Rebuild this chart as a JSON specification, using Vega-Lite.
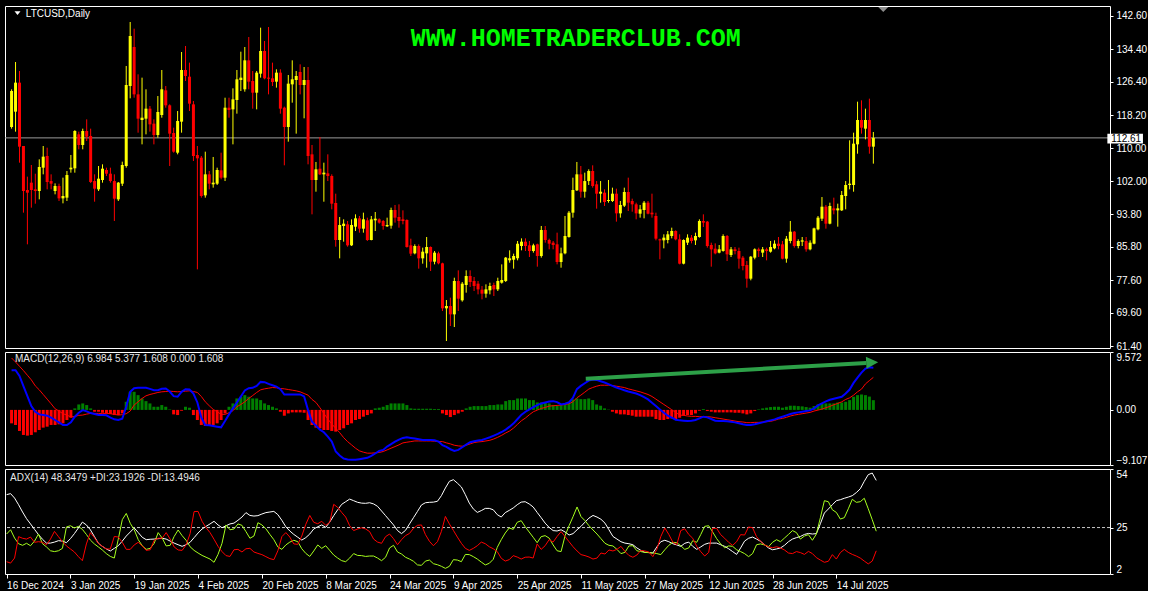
{
"$schema": "https://vega.github.io/schema/vega-lite/v6.json",
"background": "#000000",
"padding": {"left": 4, "top": 5, "right": 0, "bottom": 0},
"spacing": 4,
"bounds": "flush",
"config": {
  "view": {"stroke": "#FFFFFF", "strokeWidth": 1, "fill": "#000000"},
  "axis": {"domain": false, "grid": false, "labelColor": "#FFFFFF", "tickColor": "#FFFFFF", "labelFont": "Liberation Sans", "labelFontSize": 10, "tickSize": 3, "labelPadding": 3, "labelOverlap": false, "labelBound": false}
},
"data": {"values": [
{"i":0,"open":115.29,"high":124.56,"low":114.88,"close":124.14,"macd":6.55,"signal":8.58,"hist":-2.22,"adx":41.3,"pdi":21.8,"mdi":8.1},
{"i":1,"open":119.06,"high":131.28,"low":114.14,"close":126.20,"macd":6.55,"signal":7.92,"hist":-2.49,"adx":41.8,"pdi":23.9,"mdi":7.4},
{"i":2,"open":126.20,"high":129.07,"low":106.51,"close":110.45,"macd":5.62,"signal":7.21,"hist":-3.48,"adx":39.6,"pdi":19.8,"mdi":9.9},
{"i":3,"open":110.61,"high":110.61,"low":94.21,"close":99.54,"macd":3.92,"signal":6.50,"hist":-4.14,"adx":36.3,"pdi":17.0,"mdi":20.5},
{"i":4,"open":99.78,"high":103.07,"low":86.42,"close":99.13,"macd":2.28,"signal":5.73,"hist":-4.25,"adx":32.7,"pdi":16.2,"mdi":19.7},
{"i":5,"open":101.59,"high":105.94,"low":95.44,"close":99.78,"macd":0.63,"signal":4.96,"hist":-4.14,"adx":29.4,"pdi":17.2,"mdi":19.3},
{"i":6,"open":99.95,"high":103.80,"low":96.42,"close":99.54,"macd":-0.30,"signal":3.97,"hist":-3.70,"adx":26.8,"pdi":16.0,"mdi":20.3},
{"i":7,"open":99.54,"high":107.33,"low":97.49,"close":105.45,"macd":-0.74,"signal":3.32,"hist":-3.32,"adx":24.1,"pdi":18.3,"mdi":17.7},
{"i":8,"open":105.28,"high":110.61,"low":103.64,"close":107.99,"macd":-0.85,"signal":2.55,"hist":-2.93,"adx":21.5,"pdi":21.8,"mdi":18.0},
{"i":9,"open":108.15,"high":110.20,"low":99.95,"close":101.75,"macd":-0.96,"signal":1.78,"hist":-2.77,"adx":19.2,"pdi":17.0,"mdi":17.7},
{"i":10,"open":101.99,"high":103.64,"low":99.95,"close":101.34,"macd":-1.29,"signal":1.01,"hist":-2.49,"adx":17.3,"pdi":15.4,"mdi":16.5},
{"i":11,"open":99.54,"high":101.42,"low":98.72,"close":100.77,"macd":-1.67,"signal":0.19,"hist":-2.49,"adx":17.3,"pdi":13.5,"mdi":19.3},
{"i":12,"open":100.77,"high":101.34,"low":97.08,"close":97.73,"macd":-2.06,"signal":-0.19,"hist":-2.38,"adx":17.8,"pdi":13.1,"mdi":23.1},
{"i":13,"open":97.73,"high":102.82,"low":96.50,"close":98.31,"macd":-2.49,"signal":-0.63,"hist":-2.22,"adx":18.5,"pdi":13.5,"mdi":20.5},
{"i":14,"open":97.90,"high":104.46,"low":97.08,"close":103.47,"macd":-2.49,"signal":-0.85,"hist":-1.67,"adx":18.3,"pdi":14.7,"mdi":18.0},
{"i":15,"open":104.87,"high":108.40,"low":104.05,"close":105.28,"macd":-2.06,"signal":-1.18,"hist":-1.29,"adx":17.5,"pdi":25.3,"mdi":15.9},
{"i":16,"open":105.12,"high":114.50,"low":104.05,"close":114.30,"macd":-1.12,"signal":-1.07,"hist":0.25,"adx":19.5,"pdi":25.9,"mdi":14.4},
{"i":17,"open":113.48,"high":114.14,"low":109.79,"close":110.86,"macd":-0.47,"signal":-0.90,"hist":0.90,"adx":22.0,"pdi":24.8,"mdi":12.9},
{"i":18,"open":110.86,"high":114.88,"low":109.79,"close":114.30,"macd":-0.03,"signal":-0.85,"hist":1.07,"adx":24.8,"pdi":25.6,"mdi":10.6},
{"i":19,"open":114.30,"high":117.17,"low":111.84,"close":112.91,"macd":-0.25,"signal":-0.69,"hist":0.80,"adx":27.7,"pdi":24.1,"mdi":8.6},
{"i":20,"open":113.07,"high":114.88,"low":101.50,"close":101.75,"macd":-0.52,"signal":-0.58,"hist":0.25,"adx":26.3,"pdi":21.6,"mdi":16.9},
{"i":21,"open":101.99,"high":103.64,"low":96.91,"close":100.11,"macd":-0.69,"signal":-0.58,"hist":-0.30,"adx":23.9,"pdi":18.8,"mdi":22.5},
{"i":22,"open":99.95,"high":105.69,"low":99.54,"close":102.57,"macd":-0.85,"signal":-0.58,"hist":-0.30,"adx":20.6,"pdi":16.9,"mdi":20.0},
{"i":23,"open":102.25,"high":106.10,"low":101.59,"close":105.03,"macd":-0.85,"signal":-0.58,"hist":-0.47,"adx":17.2,"pdi":15.4,"mdi":17.2},
{"i":24,"open":104.71,"high":105.28,"low":103.23,"close":103.80,"macd":-0.90,"signal":-0.58,"hist":-0.58,"adx":15.7,"pdi":13.9,"mdi":15.7},
{"i":25,"open":103.80,"high":105.28,"low":101.59,"close":101.99,"macd":-1.29,"signal":-0.63,"hist":-0.69,"adx":14.4,"pdi":12.1,"mdi":14.4},
{"i":26,"open":101.99,"high":103.64,"low":92.16,"close":97.65,"macd":-1.56,"signal":-0.74,"hist":-0.85,"adx":13.4,"pdi":10.7,"mdi":14.4},
{"i":27,"open":97.49,"high":101.75,"low":97.08,"close":101.59,"macd":-1.67,"signal":-0.85,"hist":-0.85,"adx":14.7,"pdi":9.9,"mdi":20.6},
{"i":28,"open":101.34,"high":106.76,"low":100.77,"close":105.94,"macd":-1.45,"signal":-0.79,"hist":-0.58,"adx":16.0,"pdi":19.3,"mdi":20.3},
{"i":29,"open":105.69,"high":130.30,"low":105.28,"close":125.62,"macd":0.52,"signal":-0.63,"hist":1.34,"adx":18.3,"pdi":28.9,"mdi":17.7},
{"i":30,"open":125.37,"high":141.12,"low":122.34,"close":137.68,"macd":2.99,"signal":-0.19,"hist":2.99,"adx":20.8,"pdi":32.0,"mdi":14.2},
{"i":31,"open":134.97,"high":139.48,"low":122.50,"close":123.32,"macd":3.59,"signal":0.80,"hist":2.99,"adx":22.8,"pdi":27.1,"mdi":14.2},
{"i":32,"open":123.32,"high":128.25,"low":113.89,"close":117.34,"macd":3.65,"signal":1.34,"hist":2.44,"adx":24.8,"pdi":23.9,"mdi":16.4},
{"i":33,"open":117.01,"high":127.43,"low":111.02,"close":117.58,"macd":3.65,"signal":1.89,"hist":1.89,"adx":22.5,"pdi":19.0,"mdi":17.7},
{"i":34,"open":117.34,"high":124.56,"low":113.48,"close":119.80,"macd":3.65,"signal":2.33,"hist":1.45,"adx":20.2,"pdi":16.0,"mdi":15.9},
{"i":35,"open":119.80,"high":120.45,"low":114.14,"close":115.94,"macd":3.48,"signal":2.55,"hist":1.07,"adx":19.0,"pdi":14.2,"mdi":13.7},
{"i":36,"open":116.11,"high":117.17,"low":111.02,"close":113.32,"macd":3.26,"signal":2.71,"hist":0.52,"adx":19.2,"pdi":14.7,"mdi":14.0},
{"i":37,"open":113.32,"high":122.91,"low":112.66,"close":118.98,"macd":3.26,"signal":2.88,"hist":0.52,"adx":19.3,"pdi":17.2,"mdi":18.7},
{"i":38,"open":118.24,"high":129.31,"low":117.58,"close":124.56,"macd":3.48,"signal":2.99,"hist":0.80,"adx":19.5,"pdi":22.5,"mdi":19.7},
{"i":39,"open":124.31,"high":125.37,"low":120.04,"close":120.62,"macd":3.54,"signal":3.04,"hist":0.52,"adx":19.7,"pdi":19.8,"mdi":19.7},
{"i":40,"open":120.62,"high":120.86,"low":105.69,"close":113.65,"macd":3.04,"signal":3.10,"hist":0.08,"adx":19.3,"pdi":15.9,"mdi":22.5},
{"i":41,"open":113.81,"high":115.12,"low":108.97,"close":109.22,"macd":2.28,"signal":3.04,"hist":-0.74,"adx":18.3,"pdi":16.2,"mdi":19.3},
{"i":42,"open":108.97,"high":119.22,"low":108.56,"close":116.76,"macd":2.17,"signal":2.99,"hist":-0.85,"adx":17.3,"pdi":20.6,"mdi":15.4},
{"i":43,"open":116.60,"high":133.74,"low":113.89,"close":129.31,"macd":2.99,"signal":3.04,"hist":-0.14,"adx":16.5,"pdi":23.8,"mdi":13.9},
{"i":44,"open":129.31,"high":135.22,"low":126.61,"close":127.84,"macd":3.43,"signal":3.10,"hist":0.52,"adx":15.7,"pdi":21.0,"mdi":13.7},
{"i":45,"open":127.67,"high":131.12,"low":119.22,"close":121.03,"macd":3.37,"signal":3.15,"hist":0.36,"adx":16.5,"pdi":18.7,"mdi":16.4},
{"i":46,"open":120.86,"high":121.68,"low":106.92,"close":108.15,"macd":2.71,"signal":3.04,"hist":-0.85,"adx":17.7,"pdi":15.5,"mdi":22.0},
{"i":47,"open":108.40,"high":110.61,"low":80.26,"close":107.58,"macd":1.23,"signal":2.88,"hist":-1.67,"adx":20.0,"pdi":13.7,"mdi":32.9},
{"i":48,"open":107.74,"high":108.15,"low":97.90,"close":98.31,"macd":-1.29,"signal":2.22,"hist":-2.49,"adx":22.3,"pdi":12.4,"mdi":33.0},
{"i":49,"open":98.47,"high":109.22,"low":97.90,"close":103.64,"macd":-2.49,"signal":1.34,"hist":-2.66,"adx":24.3,"pdi":11.2,"mdi":28.1},
{"i":50,"open":103.64,"high":104.46,"low":99.95,"close":101.34,"macd":-2.55,"signal":0.69,"hist":-2.66,"adx":25.6,"pdi":10.3,"mdi":24.9},
{"i":51,"open":101.18,"high":107.91,"low":100.36,"close":101.59,"macd":-2.66,"signal":0.08,"hist":-2.49,"adx":26.8,"pdi":9.4,"mdi":22.5},
{"i":52,"open":101.34,"high":105.28,"low":101.02,"close":104.71,"macd":-2.77,"signal":-0.30,"hist":-2.22,"adx":28.1,"pdi":7.8,"mdi":19.2},
{"i":53,"open":104.62,"high":108.97,"low":102.41,"close":102.82,"macd":-2.88,"signal":-0.74,"hist":-1.67,"adx":26.3,"pdi":11.7,"mdi":15.7},
{"i":54,"open":102.82,"high":122.50,"low":101.99,"close":120.04,"macd":-1.84,"signal":-0.74,"hist":-0.58,"adx":24.9,"pdi":17.2,"mdi":13.1},
{"i":55,"open":120.04,"high":122.50,"low":117.58,"close":119.47,"macd":-0.74,"signal":-0.47,"hist":0.52,"adx":25.9,"pdi":26.3,"mdi":11.1},
{"i":56,"open":119.63,"high":124.80,"low":111.02,"close":122.09,"macd":0.25,"signal":-0.14,"hist":1.07,"adx":26.8,"pdi":23.9,"mdi":10.7},
{"i":57,"open":121.93,"high":129.31,"low":118.57,"close":127.02,"macd":1.23,"signal":0.52,"hist":1.89,"adx":27.2,"pdi":24.3,"mdi":14.0},
{"i":58,"open":126.85,"high":133.82,"low":124.14,"close":127.43,"macd":2.22,"signal":0.90,"hist":2.17,"adx":28.6,"pdi":26.8,"mdi":14.2},
{"i":59,"open":124.56,"high":134.97,"low":123.98,"close":131.69,"macd":3.21,"signal":1.34,"hist":2.44,"adx":30.2,"pdi":26.1,"mdi":12.9},
{"i":60,"open":131.69,"high":137.43,"low":124.56,"close":126.44,"macd":3.59,"signal":1.89,"hist":2.17,"adx":32.4,"pdi":23.0,"mdi":14.5},
{"i":61,"open":126.61,"high":129.07,"low":119.80,"close":123.73,"macd":3.65,"signal":2.38,"hist":1.89,"adx":31.0,"pdi":19.7,"mdi":14.7},
{"i":62,"open":123.73,"high":129.07,"low":119.63,"close":128.66,"macd":3.97,"signal":2.88,"hist":1.89,"adx":30.7,"pdi":20.8,"mdi":12.9},
{"i":63,"open":128.41,"high":139.73,"low":127.43,"close":133.99,"macd":4.63,"signal":3.32,"hist":1.62,"adx":30.9,"pdi":27.4,"mdi":12.2},
{"i":64,"open":133.99,"high":136.45,"low":127.02,"close":127.26,"macd":4.58,"signal":3.48,"hist":1.07,"adx":31.7,"pdi":26.3,"mdi":11.6},
{"i":65,"open":127.43,"high":139.89,"low":123.32,"close":127.18,"macd":4.30,"signal":3.59,"hist":0.80,"adx":32.4,"pdi":24.4,"mdi":10.6},
{"i":66,"open":127.26,"high":131.12,"low":125.37,"close":126.36,"macd":4.08,"signal":3.70,"hist":0.52,"adx":32.7,"pdi":21.6,"mdi":9.6},
{"i":67,"open":126.44,"high":129.48,"low":124.97,"close":128.66,"macd":3.86,"signal":3.65,"hist":0.25,"adx":33.0,"pdi":19.0,"mdi":9.1},
{"i":68,"open":128.66,"high":129.48,"low":118.57,"close":119.80,"macd":3.43,"signal":3.54,"hist":-0.30,"adx":31.4,"pdi":15.4,"mdi":13.5},
{"i":69,"open":120.04,"high":120.30,"low":105.86,"close":115.29,"macd":2.55,"signal":3.48,"hist":-0.96,"adx":28.6,"pdi":14.2,"mdi":20.5},
{"i":70,"open":115.29,"high":128.08,"low":111.68,"close":125.95,"macd":2.55,"signal":3.37,"hist":-0.58,"adx":25.4,"pdi":16.4,"mdi":22.5},
{"i":71,"open":125.78,"high":131.69,"low":121.27,"close":127.02,"macd":2.55,"signal":3.26,"hist":-0.41,"adx":23.3,"pdi":17.8,"mdi":20.3},
{"i":72,"open":126.85,"high":129.07,"low":113.65,"close":127.84,"macd":2.55,"signal":3.15,"hist":-0.41,"adx":21.6,"pdi":18.7,"mdi":16.9},
{"i":73,"open":128.82,"high":130.71,"low":123.32,"close":125.62,"macd":2.55,"signal":2.99,"hist":-0.41,"adx":20.2,"pdi":18.0,"mdi":16.7},
{"i":74,"open":125.62,"high":130.05,"low":117.42,"close":126.85,"macd":2.22,"signal":2.71,"hist":-0.47,"adx":18.8,"pdi":14.5,"mdi":20.8},
{"i":75,"open":126.85,"high":130.05,"low":106.10,"close":108.15,"macd":-0.03,"signal":2.44,"hist":-1.67,"adx":20.0,"pdi":12.2,"mdi":26.6},
{"i":76,"open":108.56,"high":110.86,"low":93.80,"close":102.25,"macd":-1.95,"signal":1.73,"hist":-2.49,"adx":21.8,"pdi":10.7,"mdi":31.0},
{"i":77,"open":102.25,"high":106.68,"low":99.37,"close":104.87,"macd":-2.60,"signal":1.23,"hist":-2.93,"adx":24.3,"pdi":13.4,"mdi":27.6},
{"i":78,"open":105.03,"high":112.83,"low":103.47,"close":103.64,"macd":-3.26,"signal":0.36,"hist":-3.04,"adx":25.4,"pdi":16.4,"mdi":26.9},
{"i":79,"open":103.64,"high":106.51,"low":96.91,"close":104.05,"macd":-3.70,"signal":-0.58,"hist":-3.32,"adx":26.3,"pdi":14.7,"mdi":28.1},
{"i":80,"open":103.88,"high":108.56,"low":101.99,"close":103.23,"macd":-4.41,"signal":-1.51,"hist":-3.32,"adx":25.1,"pdi":16.0,"mdi":26.1},
{"i":81,"open":103.23,"high":103.64,"low":95.03,"close":96.42,"macd":-5.24,"signal":-2.33,"hist":-3.48,"adx":27.7,"pdi":13.7,"mdi":27.6},
{"i":82,"open":96.59,"high":98.88,"low":85.84,"close":87.48,"macd":-6.88,"signal":-3.04,"hist":-3.59,"adx":30.9,"pdi":11.4,"mdi":36.5},
{"i":83,"open":87.48,"high":93.14,"low":82.97,"close":91.17,"macd":-7.54,"signal":-3.76,"hist":-3.32,"adx":33.8,"pdi":9.9,"mdi":35.0},
{"i":84,"open":90.93,"high":92.57,"low":87.07,"close":91.50,"macd":-8.03,"signal":-4.58,"hist":-3.04,"adx":36.5,"pdi":8.6,"mdi":32.5},
{"i":85,"open":91.34,"high":92.16,"low":85.84,"close":86.17,"macd":-8.20,"signal":-5.24,"hist":-2.49,"adx":37.8,"pdi":8.1,"mdi":30.2},
{"i":86,"open":86.17,"high":92.57,"low":86.01,"close":91.17,"macd":-8.25,"signal":-5.78,"hist":-2.22,"adx":39.1,"pdi":9.9,"mdi":25.9},
{"i":87,"open":90.76,"high":93.80,"low":89.70,"close":92.81,"macd":-8.25,"signal":-6.33,"hist":-1.67,"adx":38.3,"pdi":12.1,"mdi":23.5},
{"i":88,"open":92.81,"high":93.39,"low":89.29,"close":90.27,"macd":-8.14,"signal":-6.77,"hist":-1.51,"adx":37.5,"pdi":11.2,"mdi":24.3},
{"i":89,"open":90.27,"high":94.21,"low":89.29,"close":92.57,"macd":-8.03,"signal":-6.99,"hist":-1.12,"adx":37.1,"pdi":11.1,"mdi":24.9},
{"i":90,"open":92.32,"high":92.98,"low":87.24,"close":87.48,"macd":-7.92,"signal":-7.15,"hist":-0.85,"adx":37.0,"pdi":10.7,"mdi":24.3},
{"i":91,"open":87.48,"high":93.39,"low":87.40,"close":92.57,"macd":-7.59,"signal":-7.15,"hist":-0.58,"adx":37.3,"pdi":10.9,"mdi":23.0},
{"i":92,"open":92.32,"high":94.37,"low":89.70,"close":92.73,"macd":-7.21,"signal":-7.10,"hist":0.25,"adx":36.7,"pdi":10.9,"mdi":19.3},
{"i":93,"open":92.57,"high":92.81,"low":91.50,"close":91.75,"macd":-6.77,"signal":-7.04,"hist":0.36,"adx":35.5,"pdi":9.9,"mdi":17.8},
{"i":94,"open":92.16,"high":92.40,"low":90.02,"close":90.93,"macd":-6.61,"signal":-6.88,"hist":0.52,"adx":33.2,"pdi":8.6,"mdi":17.2},
{"i":95,"open":90.85,"high":92.98,"low":90.68,"close":91.17,"macd":-6.06,"signal":-6.61,"hist":0.80,"adx":30.9,"pdi":10.3,"mdi":20.5},
{"i":96,"open":91.01,"high":95.44,"low":90.27,"close":94.86,"macd":-5.67,"signal":-6.33,"hist":1.07,"adx":28.6,"pdi":14.9,"mdi":21.8},
{"i":97,"open":94.86,"high":96.10,"low":91.75,"close":92.98,"macd":-5.24,"signal":-6.06,"hist":1.07,"adx":26.3,"pdi":16.2,"mdi":19.5},
{"i":98,"open":93.14,"high":96.26,"low":90.52,"close":92.16,"macd":-4.91,"signal":-5.78,"hist":1.07,"adx":23.5,"pdi":12.9,"mdi":16.5},
{"i":99,"open":92.57,"high":94.78,"low":91.34,"close":92.16,"macd":-4.63,"signal":-5.45,"hist":1.07,"adx":22.0,"pdi":11.9,"mdi":19.0},
{"i":100,"open":92.40,"high":92.57,"low":85.60,"close":85.76,"macd":-4.52,"signal":-5.34,"hist":0.80,"adx":23.6,"pdi":10.3,"mdi":21.0},
{"i":101,"open":86.17,"high":87.81,"low":83.55,"close":84.12,"macd":-4.63,"signal":-5.24,"hist":0.25,"adx":26.8,"pdi":9.4,"mdi":22.1},
{"i":102,"open":84.20,"high":86.42,"low":83.96,"close":86.01,"macd":-4.74,"signal":-5.13,"hist":0.19,"adx":29.9,"pdi":8.3,"mdi":24.6},
{"i":103,"open":86.01,"high":86.42,"low":80.43,"close":82.97,"macd":-4.85,"signal":-5.13,"hist":0.19,"adx":33.0,"pdi":6.5,"mdi":26.1},
{"i":104,"open":82.97,"high":85.60,"low":81.66,"close":84.61,"macd":-4.96,"signal":-5.13,"hist":0.19,"adx":36.2,"pdi":6.3,"mdi":26.3},
{"i":105,"open":84.20,"high":88.22,"low":80.67,"close":85.76,"macd":-4.96,"signal":-5.13,"hist":0.19,"adx":37.3,"pdi":8.4,"mdi":21.5},
{"i":106,"open":85.76,"high":85.90,"low":79.85,"close":82.15,"macd":-4.96,"signal":-5.13,"hist":0.19,"adx":37.5,"pdi":8.9,"mdi":18.2},
{"i":107,"open":82.15,"high":84.78,"low":81.49,"close":84.37,"macd":-5.02,"signal":-5.18,"hist":0.14,"adx":37.6,"pdi":7.1,"mdi":16.0},
{"i":108,"open":84.20,"high":84.61,"low":81.49,"close":81.74,"macd":-5.24,"signal":-5.24,"hist":0.14,"adx":38.0,"pdi":6.6,"mdi":18.0},
{"i":109,"open":81.74,"high":81.90,"low":70.01,"close":70.67,"macd":-5.84,"signal":-5.24,"hist":-0.58,"adx":40.8,"pdi":5.8,"mdi":23.1},
{"i":110,"open":70.67,"high":72.72,"low":62.63,"close":71.24,"macd":-6.11,"signal":-5.45,"hist":-0.85,"adx":44.6,"pdi":4.8,"mdi":30.5},
{"i":111,"open":71.24,"high":73.29,"low":66.32,"close":69.19,"macd":-6.50,"signal":-5.62,"hist":-1.18,"adx":47.9,"pdi":5.8,"mdi":26.8},
{"i":112,"open":69.19,"high":78.21,"low":66.07,"close":77.39,"macd":-6.77,"signal":-5.84,"hist":-0.85,"adx":48.7,"pdi":9.1,"mdi":23.6},
{"i":113,"open":77.39,"high":80.02,"low":70.01,"close":73.05,"macd":-6.61,"signal":-5.95,"hist":-0.58,"adx":47.0,"pdi":8.9,"mdi":20.3},
{"i":114,"open":72.64,"high":77.15,"low":72.31,"close":76.74,"macd":-6.17,"signal":-6.00,"hist":-0.30,"adx":45.1,"pdi":8.1,"mdi":17.2},
{"i":115,"open":76.41,"high":80.02,"low":74.52,"close":78.62,"macd":-5.73,"signal":-5.84,"hist":0.25,"adx":41.3,"pdi":11.7,"mdi":14.7},
{"i":116,"open":78.62,"high":80.02,"low":75.92,"close":77.15,"macd":-5.34,"signal":-5.62,"hist":0.52,"adx":37.1,"pdi":11.6,"mdi":13.7},
{"i":117,"open":77.39,"high":78.38,"low":74.93,"close":76.16,"macd":-5.18,"signal":-5.40,"hist":0.63,"adx":34.2,"pdi":10.6,"mdi":14.7},
{"i":118,"open":76.74,"high":77.39,"low":74.11,"close":75.34,"macd":-5.07,"signal":-5.29,"hist":0.63,"adx":32.5,"pdi":9.4,"mdi":16.0},
{"i":119,"open":75.26,"high":76.16,"low":72.88,"close":74.28,"macd":-4.96,"signal":-5.24,"hist":0.63,"adx":33.4,"pdi":7.9,"mdi":17.8},
{"i":120,"open":74.28,"high":76.57,"low":73.29,"close":75.34,"macd":-4.74,"signal":-5.13,"hist":0.63,"adx":34.5,"pdi":6.5,"mdi":17.0},
{"i":121,"open":75.10,"high":76.98,"low":74.11,"close":76.16,"macd":-4.52,"signal":-5.02,"hist":0.80,"adx":34.5,"pdi":7.3,"mdi":15.5},
{"i":122,"open":76.41,"high":76.98,"low":73.70,"close":75.34,"macd":-4.25,"signal":-4.80,"hist":0.80,"adx":33.8,"pdi":9.3,"mdi":14.5},
{"i":123,"open":75.34,"high":78.21,"low":74.93,"close":77.39,"macd":-3.97,"signal":-4.52,"hist":0.90,"adx":31.4,"pdi":15.2,"mdi":13.1},
{"i":124,"open":76.98,"high":81.49,"low":76.74,"close":77.64,"macd":-3.65,"signal":-4.19,"hist":0.90,"adx":30.2,"pdi":19.0,"mdi":9.8},
{"i":125,"open":77.39,"high":83.30,"low":77.15,"close":83.14,"macd":-3.26,"signal":-3.81,"hist":1.45,"adx":32.4,"pdi":22.3,"mdi":8.4},
{"i":126,"open":82.48,"high":84.94,"low":81.90,"close":82.97,"macd":-2.77,"signal":-3.48,"hist":1.62,"adx":33.5,"pdi":24.8,"mdi":9.1},
{"i":127,"open":82.64,"high":84.12,"low":80.43,"close":83.55,"macd":-2.22,"signal":-2.99,"hist":1.62,"adx":34.7,"pdi":24.1,"mdi":11.1},
{"i":128,"open":82.97,"high":87.24,"low":82.48,"close":86.58,"macd":-1.51,"signal":-2.38,"hist":1.89,"adx":36.3,"pdi":27.6,"mdi":10.4},
{"i":129,"open":86.01,"high":87.89,"low":84.94,"close":87.07,"macd":-0.79,"signal":-1.78,"hist":1.89,"adx":37.6,"pdi":28.4,"mdi":9.4},
{"i":130,"open":87.07,"high":87.89,"low":84.78,"close":86.01,"macd":-0.30,"signal":-1.34,"hist":1.89,"adx":37.8,"pdi":25.4,"mdi":10.3},
{"i":131,"open":86.17,"high":87.24,"low":83.30,"close":84.78,"macd":0.08,"signal":-0.79,"hist":1.62,"adx":36.7,"pdi":22.8,"mdi":10.4},
{"i":132,"open":84.78,"high":86.58,"low":84.37,"close":86.17,"macd":0.47,"signal":-0.30,"hist":1.62,"adx":35.2,"pdi":20.2,"mdi":9.9},
{"i":133,"open":86.42,"high":86.58,"low":80.92,"close":83.55,"macd":0.80,"signal":-0.03,"hist":1.23,"adx":32.5,"pdi":17.5,"mdi":16.9},
{"i":134,"open":83.55,"high":90.93,"low":83.14,"close":89.94,"macd":1.07,"signal":0.25,"hist":1.23,"adx":29.9,"pdi":20.5,"mdi":14.2},
{"i":135,"open":89.94,"high":90.93,"low":86.83,"close":87.48,"macd":1.23,"signal":0.41,"hist":1.23,"adx":27.2,"pdi":21.0,"mdi":16.0},
{"i":136,"open":87.48,"high":87.81,"low":85.19,"close":86.58,"macd":1.40,"signal":0.63,"hist":1.07,"adx":25.1,"pdi":19.8,"mdi":19.0},
{"i":137,"open":86.83,"high":87.24,"low":85.19,"close":86.25,"macd":1.45,"signal":0.69,"hist":0.80,"adx":23.5,"pdi":16.4,"mdi":17.8},
{"i":138,"open":86.42,"high":89.29,"low":81.49,"close":82.07,"macd":1.29,"signal":0.74,"hist":0.69,"adx":23.3,"pdi":13.5,"mdi":20.6},
{"i":139,"open":82.07,"high":85.60,"low":80.67,"close":84.20,"macd":0.90,"signal":0.80,"hist":0.80,"adx":23.9,"pdi":13.1,"mdi":23.0},
{"i":140,"open":84.20,"high":93.39,"low":83.96,"close":88.47,"macd":1.01,"signal":0.90,"hist":1.07,"adx":22.8,"pdi":21.0,"mdi":20.5},
{"i":141,"open":88.22,"high":94.62,"low":88.06,"close":94.21,"macd":1.23,"signal":1.01,"hist":1.34,"adx":21.3,"pdi":25.9,"mdi":18.0},
{"i":142,"open":94.21,"high":102.82,"low":92.98,"close":99.78,"macd":2.00,"signal":1.34,"hist":1.73,"adx":22.0,"pdi":30.4,"mdi":15.5},
{"i":143,"open":99.70,"high":106.68,"low":99.54,"close":103.64,"macd":3.43,"signal":2.00,"hist":1.89,"adx":23.9,"pdi":35.2,"mdi":13.4},
{"i":144,"open":103.64,"high":105.69,"low":97.90,"close":99.37,"macd":3.97,"signal":2.44,"hist":1.78,"adx":25.6,"pdi":30.4,"mdi":11.6},
{"i":145,"open":99.37,"high":104.05,"low":97.90,"close":101.99,"macd":4.41,"signal":2.93,"hist":1.78,"adx":27.7,"pdi":28.4,"mdi":11.1},
{"i":146,"open":101.99,"high":104.87,"low":101.02,"close":104.46,"macd":4.85,"signal":3.43,"hist":1.89,"adx":29.7,"pdi":25.9,"mdi":10.4},
{"i":147,"open":104.46,"high":105.86,"low":100.36,"close":100.77,"macd":5.02,"signal":3.70,"hist":1.62,"adx":31.0,"pdi":23.8,"mdi":9.4},
{"i":148,"open":101.18,"high":101.99,"low":95.19,"close":98.88,"macd":4.96,"signal":3.92,"hist":0.90,"adx":30.2,"pdi":21.8,"mdi":9.9},
{"i":149,"open":98.88,"high":101.99,"low":96.67,"close":99.37,"macd":4.74,"signal":4.08,"hist":0.69,"adx":29.1,"pdi":19.5,"mdi":12.4},
{"i":150,"open":99.13,"high":99.95,"low":95.85,"close":96.83,"macd":4.52,"signal":4.08,"hist":0.25,"adx":27.2,"pdi":17.2,"mdi":11.9},
{"i":151,"open":97.08,"high":102.25,"low":96.67,"close":97.32,"macd":4.25,"signal":4.08,"hist":0.05,"adx":23.9,"pdi":16.2,"mdi":13.9},
{"i":152,"open":97.08,"high":100.36,"low":96.83,"close":98.88,"macd":3.97,"signal":4.03,"hist":-0.30,"adx":20.6,"pdi":15.9,"mdi":13.4},
{"i":153,"open":98.88,"high":100.11,"low":92.00,"close":94.04,"macd":3.70,"signal":3.92,"hist":-0.58,"adx":19.3,"pdi":14.2,"mdi":14.2},
{"i":154,"open":94.04,"high":97.08,"low":92.98,"close":96.10,"macd":3.48,"signal":3.81,"hist":-0.74,"adx":18.0,"pdi":12.1,"mdi":15.7},
{"i":155,"open":95.93,"high":100.36,"low":95.60,"close":99.29,"macd":3.26,"signal":3.70,"hist":-0.74,"adx":17.3,"pdi":12.7,"mdi":13.2},
{"i":156,"open":99.29,"high":102.82,"low":94.62,"close":96.67,"macd":3.04,"signal":3.48,"hist":-0.85,"adx":17.0,"pdi":15.9,"mdi":11.2},
{"i":157,"open":97.08,"high":97.65,"low":94.45,"close":96.26,"macd":2.88,"signal":3.32,"hist":-0.96,"adx":16.5,"pdi":16.0,"mdi":10.3},
{"i":158,"open":96.26,"high":96.67,"low":92.57,"close":94.04,"macd":2.71,"signal":3.15,"hist":-1.12,"adx":14.9,"pdi":13.5,"mdi":11.4},
{"i":159,"open":93.96,"high":96.10,"low":92.98,"close":95.03,"macd":2.44,"signal":2.99,"hist":-1.12,"adx":13.7,"pdi":13.1,"mdi":13.7},
{"i":160,"open":94.86,"high":97.08,"low":92.81,"close":96.67,"macd":2.11,"signal":2.77,"hist":-1.12,"adx":12.7,"pdi":12.7,"mdi":13.4},
{"i":161,"open":96.67,"high":97.08,"low":93.80,"close":93.96,"macd":1.73,"signal":2.55,"hist":-1.12,"adx":12.6,"pdi":12.6,"mdi":12.9},
{"i":162,"open":94.21,"high":98.88,"low":92.98,"close":93.80,"macd":1.18,"signal":2.22,"hist":-1.12,"adx":12.4,"pdi":12.4,"mdi":10.6},
{"i":163,"open":93.39,"high":94.21,"low":87.40,"close":87.81,"macd":0.63,"signal":1.78,"hist":-1.51,"adx":15.4,"pdi":12.1,"mdi":14.2},
{"i":164,"open":87.65,"high":87.81,"low":82.73,"close":87.40,"macd":0.08,"signal":1.34,"hist":-1.67,"adx":18.0,"pdi":11.6,"mdi":20.6},
{"i":165,"open":87.40,"high":88.88,"low":85.43,"close":88.06,"macd":-0.47,"signal":0.90,"hist":-1.67,"adx":18.7,"pdi":14.0,"mdi":24.8},
{"i":166,"open":87.48,"high":89.70,"low":86.66,"close":88.88,"macd":-0.96,"signal":0.47,"hist":-1.51,"adx":18.0,"pdi":16.2,"mdi":21.6},
{"i":167,"open":88.47,"high":90.52,"low":87.89,"close":89.70,"macd":-1.29,"signal":0.03,"hist":-1.40,"adx":17.0,"pdi":17.7,"mdi":17.8},
{"i":168,"open":89.70,"high":89.86,"low":87.40,"close":87.65,"macd":-1.62,"signal":-0.41,"hist":-1.51,"adx":16.4,"pdi":17.5,"mdi":16.5},
{"i":169,"open":87.65,"high":88.88,"low":81.49,"close":81.66,"macd":-1.73,"signal":-0.85,"hist":-1.29,"adx":15.7,"pdi":16.0,"mdi":23.5},
{"i":170,"open":81.66,"high":87.65,"low":81.49,"close":87.48,"macd":-1.78,"signal":-0.90,"hist":-0.96,"adx":17.2,"pdi":14.2,"mdi":24.4},
{"i":171,"open":86.83,"high":88.88,"low":86.25,"close":88.06,"macd":-1.84,"signal":-1.01,"hist":-0.85,"adx":17.8,"pdi":14.9,"mdi":21.6},
{"i":172,"open":88.06,"high":88.71,"low":86.66,"close":87.24,"macd":-1.78,"signal":-1.07,"hist":-0.85,"adx":15.7,"pdi":18.5,"mdi":19.7},
{"i":173,"open":87.40,"high":89.29,"low":86.25,"close":88.47,"macd":-1.67,"signal":-1.07,"hist":-0.58,"adx":14.2,"pdi":17.7,"mdi":15.7},
{"i":174,"open":88.22,"high":92.57,"low":88.06,"close":92.16,"macd":-1.40,"signal":-1.12,"hist":-0.14,"adx":15.4,"pdi":21.5,"mdi":13.1},
{"i":175,"open":92.16,"high":93.80,"low":90.68,"close":91.75,"macd":-1.12,"signal":-1.12,"hist":0.14,"adx":16.7,"pdi":25.6,"mdi":10.9},
{"i":176,"open":92.00,"high":92.16,"low":85.60,"close":86.01,"macd":-1.23,"signal":-1.12,"hist":-0.19,"adx":17.3,"pdi":25.9,"mdi":12.7},
{"i":177,"open":86.25,"high":86.83,"low":80.92,"close":85.19,"macd":-1.51,"signal":-1.18,"hist":-0.30,"adx":17.3,"pdi":22.8,"mdi":24.6},
{"i":178,"open":85.35,"high":86.66,"low":83.96,"close":84.20,"macd":-1.78,"signal":-1.29,"hist":-0.41,"adx":17.3,"pdi":19.5,"mdi":24.6},
{"i":179,"open":84.37,"high":86.25,"low":84.20,"close":85.19,"macd":-1.84,"signal":-1.40,"hist":-0.41,"adx":16.5,"pdi":16.9,"mdi":21.5},
{"i":180,"open":84.78,"high":88.88,"low":84.61,"close":88.47,"macd":-1.84,"signal":-1.51,"hist":-0.41,"adx":15.7,"pdi":15.0,"mdi":19.7},
{"i":181,"open":88.47,"high":88.71,"low":82.31,"close":83.96,"macd":-1.89,"signal":-1.62,"hist":-0.41,"adx":14.5,"pdi":15.9,"mdi":17.7},
{"i":182,"open":83.79,"high":85.76,"low":83.30,"close":85.19,"macd":-1.95,"signal":-1.73,"hist":-0.41,"adx":13.1,"pdi":15.7,"mdi":16.2},
{"i":183,"open":85.19,"high":85.76,"low":83.96,"close":84.78,"macd":-2.06,"signal":-1.84,"hist":-0.47,"adx":11.7,"pdi":14.0,"mdi":18.0},
{"i":184,"open":84.78,"high":85.60,"low":80.43,"close":82.89,"macd":-2.22,"signal":-1.95,"hist":-0.47,"adx":14.9,"pdi":13.1,"mdi":21.5},
{"i":185,"open":83.14,"high":83.55,"low":80.02,"close":81.08,"macd":-2.38,"signal":-2.00,"hist":-0.58,"adx":18.3,"pdi":12.1,"mdi":21.3},
{"i":186,"open":81.33,"high":82.31,"low":75.75,"close":77.97,"macd":-2.49,"signal":-2.11,"hist":-0.74,"adx":19.7,"pdi":10.6,"mdi":25.3},
{"i":187,"open":77.97,"high":83.55,"low":77.56,"close":83.38,"macd":-2.49,"signal":-2.11,"hist":-0.58,"adx":20.3,"pdi":12.1,"mdi":24.9},
{"i":188,"open":83.14,"high":85.43,"low":82.73,"close":85.19,"macd":-2.38,"signal":-2.06,"hist":-0.19,"adx":19.3,"pdi":16.5,"mdi":20.5},
{"i":189,"open":85.19,"high":85.60,"low":83.30,"close":84.78,"macd":-2.22,"signal":-2.06,"hist":0.08,"adx":18.2,"pdi":16.9,"mdi":18.2},
{"i":190,"open":84.37,"high":85.76,"low":83.30,"close":85.19,"macd":-2.06,"signal":-2.00,"hist":0.25,"adx":16.5,"pdi":16.4,"mdi":16.4},
{"i":191,"open":85.19,"high":85.60,"low":82.48,"close":84.78,"macd":-1.89,"signal":-1.95,"hist":0.36,"adx":14.9,"pdi":15.5,"mdi":15.5},
{"i":192,"open":84.61,"high":87.24,"low":84.37,"close":85.76,"macd":-1.73,"signal":-1.89,"hist":0.47,"adx":14.0,"pdi":17.7,"mdi":15.0},
{"i":193,"open":85.43,"high":87.40,"low":85.19,"close":86.58,"macd":-1.56,"signal":-1.73,"hist":0.52,"adx":14.4,"pdi":19.0,"mdi":15.5},
{"i":194,"open":86.58,"high":88.22,"low":85.19,"close":86.01,"macd":-1.34,"signal":-1.51,"hist":0.52,"adx":14.9,"pdi":18.0,"mdi":14.9},
{"i":195,"open":86.42,"high":87.24,"low":82.73,"close":82.89,"macd":-1.12,"signal":-1.40,"hist":0.36,"adx":16.2,"pdi":19.8,"mdi":13.9},
{"i":196,"open":82.89,"high":88.47,"low":81.90,"close":87.81,"macd":-0.90,"signal":-1.23,"hist":0.52,"adx":18.0,"pdi":21.6,"mdi":12.4},
{"i":197,"open":87.24,"high":92.16,"low":86.66,"close":89.53,"macd":-0.69,"signal":-1.01,"hist":0.69,"adx":19.3,"pdi":23.5,"mdi":12.1},
{"i":198,"open":89.53,"high":89.70,"low":85.60,"close":86.01,"macd":-0.52,"signal":-0.85,"hist":0.69,"adx":20.0,"pdi":22.5,"mdi":13.1},
{"i":199,"open":86.01,"high":87.65,"low":85.43,"close":87.24,"macd":-0.41,"signal":-0.74,"hist":0.63,"adx":20.6,"pdi":19.3,"mdi":12.6},
{"i":200,"open":87.07,"high":88.22,"low":86.01,"close":87.40,"macd":-0.30,"signal":-0.63,"hist":0.58,"adx":21.6,"pdi":20.8,"mdi":11.7},
{"i":201,"open":87.24,"high":88.22,"low":84.61,"close":85.19,"macd":-0.19,"signal":-0.52,"hist":0.47,"adx":22.1,"pdi":21.5,"mdi":13.2},
{"i":202,"open":85.19,"high":87.40,"low":84.94,"close":86.83,"macd":-0.08,"signal":-0.41,"hist":0.36,"adx":21.8,"pdi":18.7,"mdi":12.1},
{"i":203,"open":86.58,"high":90.52,"low":86.42,"close":90.35,"macd":0.25,"signal":-0.19,"hist":0.63,"adx":22.0,"pdi":21.8,"mdi":10.1},
{"i":204,"open":90.11,"high":93.39,"low":89.86,"close":92.98,"macd":0.74,"signal":-0.03,"hist":0.90,"adx":26.9,"pdi":29.9,"mdi":8.9},
{"i":205,"open":92.73,"high":98.06,"low":92.16,"close":95.68,"macd":1.07,"signal":0.14,"hist":1.07,"adx":32.2,"pdi":38.3,"mdi":7.8},
{"i":206,"open":95.68,"high":96.10,"low":90.27,"close":91.50,"macd":1.40,"signal":0.36,"hist":1.07,"adx":34.2,"pdi":37.8,"mdi":8.3},
{"i":207,"open":91.50,"high":96.67,"low":91.34,"close":95.85,"macd":1.67,"signal":0.58,"hist":1.07,"adx":36.3,"pdi":33.8,"mdi":11.6},
{"i":208,"open":95.27,"high":97.90,"low":93.80,"close":94.78,"macd":1.84,"signal":0.85,"hist":1.07,"adx":38.3,"pdi":32.5,"mdi":9.4},
{"i":209,"open":94.78,"high":96.42,"low":90.76,"close":95.27,"macd":2.00,"signal":1.07,"hist":1.23,"adx":38.8,"pdi":29.2,"mdi":12.6},
{"i":210,"open":94.78,"high":99.54,"low":94.62,"close":98.55,"macd":2.17,"signal":1.34,"hist":1.23,"adx":39.5,"pdi":29.9,"mdi":14.2},
{"i":211,"open":98.31,"high":101.99,"low":95.03,"close":101.02,"macd":2.71,"signal":1.73,"hist":1.34,"adx":40.1,"pdi":34.3,"mdi":12.7},
{"i":212,"open":101.02,"high":112.01,"low":99.95,"close":101.34,"macd":3.37,"signal":2.00,"hist":1.62,"adx":40.8,"pdi":39.0,"mdi":11.7},
{"i":213,"open":101.02,"high":113.89,"low":99.37,"close":111.19,"macd":4.47,"signal":2.44,"hist":2.17,"adx":42.3,"pdi":37.5,"mdi":10.9},
{"i":214,"open":111.02,"high":121.52,"low":108.72,"close":117.01,"macd":5.35,"signal":2.99,"hist":2.44,"adx":44.2,"pdi":37.8,"mdi":9.9},
{"i":215,"open":117.01,"high":121.85,"low":113.65,"close":115.12,"macd":6.17,"signal":3.43,"hist":2.55,"adx":47.9,"pdi":39.5,"mdi":8.4},
{"i":216,"open":114.88,"high":119.80,"low":112.25,"close":117.01,"macd":6.82,"signal":4.30,"hist":2.44,"adx":51.2,"pdi":34.3,"mdi":7.0},
{"i":217,"open":117.01,"high":122.26,"low":108.72,"close":110.45,"macd":7.05,"signal":4.85,"hist":2.20,"adx":52.0,"pdi":28.9,"mdi":8.4},
{"i":218,"open":110.45,"high":114.06,"low":106.27,"close":112.61,"macd":6.984,"signal":5.377,"hist":1.608,"adx":48.35,"pdi":23.19,"mdi":13.49}
]},
"vconcat": [
{
 "width": 1105, "height": 342,
 "layer": [
  {"data": {"values": [{}]}, "mark": {"type": "rule", "color": "#9A9A9A", "strokeWidth": 1},
   "encoding": {"y": {"datum": 112.61, "type": "quantitative", "scale": {"domain": [60.91, 145.06], "nice": false, "zero": false},
     "axis": {"orient": "right", "title": null, "values": [61.4, 69.6, 77.6, 85.8, 93.8, 102, 110, 118.2, 126.4, 134.4, 142.6], "format": ".2f"}}}},
  {"mark": {"type": "rule", "strokeWidth": 1},
   "encoding": {
    "x": {"field": "i", "type": "quantitative", "scale": {"domain": [-0.4, 276.6], "nice": false, "zero": false}, "axis": null},
    "y": {"field": "low", "type": "quantitative", "scale": {"domain": [60.91, 145.06], "nice": false, "zero": false},
     "axis": {"orient": "right", "title": null, "values": [61.4, 69.6, 77.6, 85.8, 93.8, 102, 110, 118.2, 126.4, 134.4, 142.6], "format": ".2f"}},
    "y2": {"field": "high"},
    "color": {"condition": {"test": "datum.close >= datum.open", "value": "#FFFF00"}, "value": "#FF0000"}}},
  {"mark": {"type": "bar", "size": 3},
   "encoding": {
    "x": {"field": "i", "type": "quantitative", "scale": {"domain": [-0.4, 276.6], "nice": false, "zero": false}, "axis": null},
    "y": {"field": "open", "type": "quantitative", "scale": {"domain": [60.91, 145.06], "nice": false, "zero": false},
     "axis": {"orient": "right", "title": null, "values": [61.4, 69.6, 77.6, 85.8, 93.8, 102, 110, 118.2, 126.4, 134.4, 142.6], "format": ".2f"}},
    "y2": {"field": "close"},
    "color": {"condition": {"test": "datum.close >= datum.open", "value": "#FFFF00"}, "value": "#FF0000"}}},
  {"data": {"values": [{}]}, "mark": {"type": "point", "shape": "M-1,-0.6L1,-0.6L0,0.6Z", "size": 36, "filled": true, "color": "#FFFFFF", "opacity": 1},
   "encoding": {
    "x": {"datum": 1.5, "type": "quantitative", "scale": {"domain": [-0.4, 276.6], "nice": false, "zero": false}, "axis": null},
    "y": {"datum": 143.3, "type": "quantitative", "scale": {"domain": [60.91, 145.06], "nice": false, "zero": false},
     "axis": {"orient": "right", "title": null, "values": [61.4, 69.6, 77.6, 85.8, 93.8, 102, 110, 118.2, 126.4, 134.4, 142.6], "format": ".2f"}}}},
  {"data": {"values": [{}]}, "mark": {"type": "text", "text": "LTCUSD,Daily", "align": "left", "baseline": "middle", "font": "Liberation Sans", "fontSize": 10, "color": "#FFFFFF"},
   "encoding": {
    "x": {"datum": 3.6, "type": "quantitative", "scale": {"domain": [-0.4, 276.6], "nice": false, "zero": false}, "axis": null},
    "y": {"datum": 143.2, "type": "quantitative", "scale": {"domain": [60.91, 145.06], "nice": false, "zero": false},
     "axis": {"orient": "right", "title": null, "values": [61.4, 69.6, 77.6, 85.8, 93.8, 102, 110, 118.2, 126.4, 134.4, 142.6], "format": ".2f"}}}},
  {"data": {"values": [{}]}, "mark": {"type": "text", "text": "WWW.HOMETRADERCLUB.COM", "align": "center", "baseline": "middle", "font": "Liberation Mono", "fontWeight": "bold", "fontSize": 25, "color": "#00FF00"},
   "encoding": {
    "x": {"datum": 142.7, "type": "quantitative", "scale": {"domain": [-0.4, 276.6], "nice": false, "zero": false}, "axis": null},
    "y": {"datum": 137.2, "type": "quantitative", "scale": {"domain": [60.91, 145.06], "nice": false, "zero": false},
     "axis": {"orient": "right", "title": null, "values": [61.4, 69.6, 77.6, 85.8, 93.8, 102, 110, 118.2, 126.4, 134.4, 142.6], "format": ".2f"}}}},
  {"data": {"values": [{}]}, "mark": {"type": "point", "shape": "M-1,-0.5L1,-0.5L0,0.5Z", "size": 100, "filled": true, "color": "#8C8C8C", "opacity": 1},
   "encoding": {
    "x": {"datum": 220.5, "type": "quantitative", "scale": {"domain": [-0.4, 276.6], "nice": false, "zero": false}, "axis": null},
    "y": {"datum": 144.2, "type": "quantitative", "scale": {"domain": [60.91, 145.06], "nice": false, "zero": false},
     "axis": {"orient": "right", "title": null, "values": [61.4, 69.6, 77.6, 85.8, 93.8, 102, 110, 118.2, 126.4, 134.4, 142.6], "format": ".2f"}}}},
  {"data": {"values": [{}]}, "mark": {"type": "rect", "color": "#FFFFFF"},
   "encoding": {
    "x": {"datum": 277.2, "type": "quantitative", "scale": {"domain": [-0.4, 276.6], "nice": false, "zero": false}, "axis": null},
    "x2": {"datum": 286.2},
    "y": {"datum": 111.2, "type": "quantitative", "scale": {"domain": [60.91, 145.06], "nice": false, "zero": false},
     "axis": {"orient": "right", "title": null, "values": [61.4, 69.6, 77.6, 85.8, 93.8, 102, 110, 118.2, 126.4, 134.4, 142.6], "format": ".2f"}},
    "y2": {"datum": 113.6}}},
  {"data": {"values": [{}]}, "mark": {"type": "text", "text": "112.61", "align": "left", "baseline": "middle", "font": "Liberation Sans", "fontSize": 10, "color": "#000000"},
   "encoding": {
    "x": {"datum": 278.2, "type": "quantitative", "scale": {"domain": [-0.4, 276.6], "nice": false, "zero": false}, "axis": null},
    "y": {"datum": 112.45, "type": "quantitative", "scale": {"domain": [60.91, 145.06], "nice": false, "zero": false},
     "axis": {"orient": "right", "title": null, "values": [61.4, 69.6, 77.6, 85.8, 93.8, 102, 110, 118.2, 126.4, 134.4, 142.6], "format": ".2f"}}}}
 ]
},
{
 "width": 1105, "height": 113,
 "layer": [
  {"mark": {"type": "bar", "size": 3},
   "encoding": {
    "x": {"field": "i", "type": "quantitative", "scale": {"domain": [-0.4, 276.6], "nice": false, "zero": false}, "axis": null},
    "y": {"field": "hist", "type": "quantitative", "scale": {"domain": [-9.107, 9.572], "nice": false, "zero": false},
      "axis": {"orient": "right", "title": null, "values": [-9.107, 0, 9.572], "labelExpr": "datum.value == 0 ? '0.00' : format(datum.value, '.3f')", "labelFlush": true}},
    "y2": {"datum": 0},
    "color": {"condition": {"test": "datum.hist >= 0", "value": "#008000"}, "value": "#FF0000"}}},
  {"mark": {"type": "line", "color": "#FF0000", "strokeWidth": 1},
   "encoding": {
    "x": {"field": "i", "type": "quantitative", "scale": {"domain": [-0.4, 276.6], "nice": false, "zero": false}, "axis": null},
    "y": {"field": "signal", "type": "quantitative", "scale": {"domain": [-9.107, 9.572], "nice": false, "zero": false},
      "axis": {"orient": "right", "title": null, "values": [-9.107, 0, 9.572], "labelExpr": "datum.value == 0 ? '0.00' : format(datum.value, '.3f')", "labelFlush": true}}}},
  {"mark": {"type": "line", "color": "#0000FF", "strokeWidth": 2},
   "encoding": {
    "x": {"field": "i", "type": "quantitative", "scale": {"domain": [-0.4, 276.6], "nice": false, "zero": false}, "axis": null},
    "y": {"field": "macd", "type": "quantitative", "scale": {"domain": [-9.107, 9.572], "nice": false, "zero": false},
      "axis": {"orient": "right", "title": null, "values": [-9.107, 0, 9.572], "labelExpr": "datum.value == 0 ? '0.00' : format(datum.value, '.3f')", "labelFlush": true}}}},
  {"data": {"values": [{}]}, "mark": {"type": "text", "text": "MACD(12,26,9) 6.984 5.377 1.608 0.000 1.608", "align": "left", "baseline": "middle", "font": "Liberation Sans", "fontSize": 10, "color": "#E6E6E6"},
   "encoding": {
    "x": {"datum": 0.85, "type": "quantitative", "scale": {"domain": [-0.4, 276.6], "nice": false, "zero": false}, "axis": null},
    "y": {"datum": 8.41, "type": "quantitative", "scale": {"domain": [-9.107, 9.572], "nice": false, "zero": false},
      "axis": {"orient": "right", "title": null, "values": [-9.107, 0, 9.572], "labelExpr": "datum.value == 0 ? '0.00' : format(datum.value, '.3f')", "labelFlush": true}}}},
  {"data": {"values": [{}]}, "mark": {"type": "rule", "color": "#2DA048", "strokeWidth": 4},
   "encoding": {
    "x": {"datum": 145.25, "type": "quantitative", "scale": {"domain": [-0.4, 276.6], "nice": false, "zero": false}, "axis": null},
    "x2": {"datum": 216.2},
    "y": {"datum": 5.16, "type": "quantitative", "scale": {"domain": [-9.107, 9.572], "nice": false, "zero": false},
      "axis": {"orient": "right", "title": null, "values": [-9.107, 0, 9.572], "labelExpr": "datum.value == 0 ? '0.00' : format(datum.value, '.3f')", "labelFlush": true}},
    "y2": {"datum": 7.75}}},
  {"data": {"values": [{}]}, "mark": {"type": "point", "shape": "M-1,-1L1,0L-1,1Z", "size": 144, "angle": 357, "filled": true, "color": "#2DA048", "opacity": 1},
   "encoding": {
    "x": {"datum": 217.7, "type": "quantitative", "scale": {"domain": [-0.4, 276.6], "nice": false, "zero": false}, "axis": null},
    "y": {"datum": 7.83, "type": "quantitative", "scale": {"domain": [-9.107, 9.572], "nice": false, "zero": false},
      "axis": {"orient": "right", "title": null, "values": [-9.107, 0, 9.572], "labelExpr": "datum.value == 0 ? '0.00' : format(datum.value, '.3f')", "labelFlush": true}}}}
 ]
},
{
 "width": 1105, "height": 105,
 "layer": [
  {"data": {"values": [{}]}, "mark": {"type": "rule", "color": "#C8C8C8", "strokeWidth": 1, "strokeDash": [3, 2]},
   "encoding": {"y": {"datum": 25, "type": "quantitative", "scale": {"domain": [2, 54], "nice": false, "zero": false},
     "axis": {"orient": "right", "title": null, "values": [2, 25, 54], "format": "d", "labelFlush": true}}}},
  {"mark": {"type": "line", "color": "#FFFFFF", "strokeWidth": 1},
   "encoding": {
    "x": {"field": "i", "type": "quantitative", "scale": {"domain": [-0.4, 276.6], "nice": false, "zero": false},
      "axis": {"orient": "bottom", "title": null, "values": [0, 16, 32, 48, 64, 80, 96, 112, 128, 144, 160, 176, 192, 208],
        "labelExpr": "['16 Dec 2024','3 Jan 2025','19 Jan 2025','4 Feb 2025','20 Feb 2025','8 Mar 2025','24 Mar 2025','9 Apr 2025','25 Apr 2025','11 May 2025','27 May 2025','12 Jun 2025','28 Jun 2025','14 Jul 2025'][round(datum.value / 16)]",
        "labelAlign": "left", "labelBaseline": "top", "tickSize": 4, "labelPadding": 2}},
    "y": {"field": "adx", "type": "quantitative", "scale": {"domain": [2, 54], "nice": false, "zero": false},
     "axis": {"orient": "right", "title": null, "values": [2, 25, 54], "format": "d", "labelFlush": true}}}},
  {"mark": {"type": "line", "color": "#A6FF1E", "strokeWidth": 1},
   "encoding": {
    "x": {"field": "i", "type": "quantitative", "scale": {"domain": [-0.4, 276.6], "nice": false, "zero": false},
      "axis": {"orient": "bottom", "title": null, "values": [0, 16, 32, 48, 64, 80, 96, 112, 128, 144, 160, 176, 192, 208],
        "labelExpr": "['16 Dec 2024','3 Jan 2025','19 Jan 2025','4 Feb 2025','20 Feb 2025','8 Mar 2025','24 Mar 2025','9 Apr 2025','25 Apr 2025','11 May 2025','27 May 2025','12 Jun 2025','28 Jun 2025','14 Jul 2025'][round(datum.value / 16)]",
        "labelAlign": "left", "labelBaseline": "top", "tickSize": 4, "labelPadding": 2}},
    "y": {"field": "pdi", "type": "quantitative", "scale": {"domain": [2, 54], "nice": false, "zero": false},
     "axis": {"orient": "right", "title": null, "values": [2, 25, 54], "format": "d", "labelFlush": true}}}},
  {"mark": {"type": "line", "color": "#FF0000", "strokeWidth": 1},
   "encoding": {
    "x": {"field": "i", "type": "quantitative", "scale": {"domain": [-0.4, 276.6], "nice": false, "zero": false},
      "axis": {"orient": "bottom", "title": null, "values": [0, 16, 32, 48, 64, 80, 96, 112, 128, 144, 160, 176, 192, 208],
        "labelExpr": "['16 Dec 2024','3 Jan 2025','19 Jan 2025','4 Feb 2025','20 Feb 2025','8 Mar 2025','24 Mar 2025','9 Apr 2025','25 Apr 2025','11 May 2025','27 May 2025','12 Jun 2025','28 Jun 2025','14 Jul 2025'][round(datum.value / 16)]",
        "labelAlign": "left", "labelBaseline": "top", "tickSize": 4, "labelPadding": 2}},
    "y": {"field": "mdi", "type": "quantitative", "scale": {"domain": [2, 54], "nice": false, "zero": false},
     "axis": {"orient": "right", "title": null, "values": [2, 25, 54], "format": "d", "labelFlush": true}}}},
  {"data": {"values": [{}]}, "mark": {"type": "text", "text": "ADX(14) 48.3479 +DI:23.1926 -DI:13.4946", "align": "left", "baseline": "middle", "font": "Liberation Sans", "fontSize": 10, "color": "#E6E6E6"},
   "encoding": {
    "x": {"datum": 0.85, "type": "quantitative", "scale": {"domain": [-0.4, 276.6], "nice": false, "zero": false},
      "axis": {"orient": "bottom", "title": null, "values": [0, 16, 32, 48, 64, 80, 96, 112, 128, 144, 160, 176, 192, 208],
        "labelExpr": "['16 Dec 2024','3 Jan 2025','19 Jan 2025','4 Feb 2025','20 Feb 2025','8 Mar 2025','24 Mar 2025','9 Apr 2025','25 Apr 2025','11 May 2025','27 May 2025','12 Jun 2025','28 Jun 2025','14 Jul 2025'][round(datum.value / 16)]",
        "labelAlign": "left", "labelBaseline": "top", "tickSize": 4, "labelPadding": 2}},
    "y": {"datum": 49.55, "type": "quantitative", "scale": {"domain": [2, 54], "nice": false, "zero": false},
     "axis": {"orient": "right", "title": null, "values": [2, 25, 54], "format": "d", "labelFlush": true}}}}
 ]
}
]
}
